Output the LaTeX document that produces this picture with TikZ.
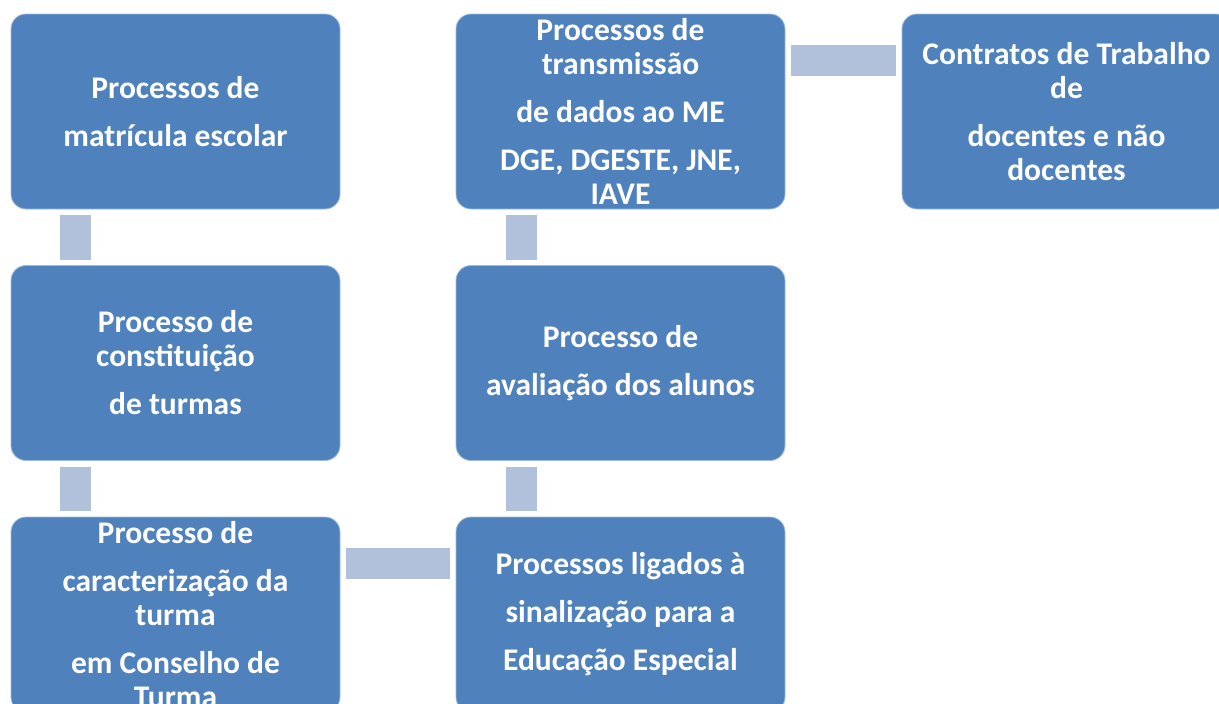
\documentclass[tikz,border=0pt]{standalone}
\usepackage{fontspec}
\setmainfont{Carlito}
\definecolor{boxblue}{RGB}{79,129,189}
\definecolor{linkblue}{RGB}{178,193,219}
\begin{document}
\begin{tikzpicture}[x=1pt,y=-1pt,line join=round,font={\fontsize{31.5}{34}\selectfont\bfseries}]
	\tikzset{box/.style={draw=boxblue!55!white,line width=0.8pt,fill=boxblue,rounded corners=15pt,minimum width=329pt,minimum height=195pt,inner sep=0pt,outer sep=0pt},
		txt/.style={text=white,align=center,inner sep=0pt},
		link/.style={draw=linkblue,line width=31pt,shorten <=6pt,shorten >=6pt}}
	\def\gap{14pt}
	\useasboundingbox (0,0) rectangle (1219,704);
	\clip (0,0) rectangle (1219,704);
	% boxes
	\node[box] (A) at (175.5,111.5) {};
	\node[box] (B) at (620.5,111.5) {};
	\node[box] (C) at (1066.5,111.5) {};
	\node[box] (D) at (175.5,363) {};
	\node[box] (E) at (620.5,363) {};
	\node[box] (F) at (175.5,614.5) {};
	\node[box] (G) at (620.5,614.5) {};
	% texts
	\node[txt] (At) at (A) {Processos de\\[\gap]matrícula escolar};
	\node[txt] (Bt) at (B) {Processos de\\transmissão\\[\gap]de dados ao ME\\[\gap]DGE, DGESTE, JNE,\\IAVE};
	\node[txt] (Ct) at (C) {Contratos de Trabalho\\de\\[\gap]docentes e não\\docentes};
	\node[txt] (Dt) at (D) {Processo de\\constituição\\[\gap]de turmas};
	\node[txt] (Et) at (E) {Processo de\\[\gap]avaliação dos alunos};
	\node[txt] (Ft) at (F) {Processo de\\[\gap]caracterização da\\turma\\[\gap]em Conselho de\\Turma};
	\node[txt] (Gt) at (G) {Processos ligados à\\[\gap]sinalização para a\\[\gap]Educação Especial};
	% connectors
	\draw[link] ([xshift=64.5pt]A.south west) -- ([xshift=64.5pt]D.north west);
	\draw[link] ([xshift=64.5pt]D.south west) -- ([xshift=64.5pt]F.north west);
	\draw[link] ([xshift=65.5pt]B.south west) -- ([xshift=65.5pt]E.north west);
	\draw[link] ([xshift=65.5pt]E.south west) -- ([xshift=65.5pt]G.north west);
	\draw[link] ([yshift=-46pt]F.north east) -- ([yshift=-46pt]G.north west);
	\draw[link] ([yshift=-46pt]B.north east) -- ([yshift=-46pt]C.north west);
\end{tikzpicture}
\end{document}
